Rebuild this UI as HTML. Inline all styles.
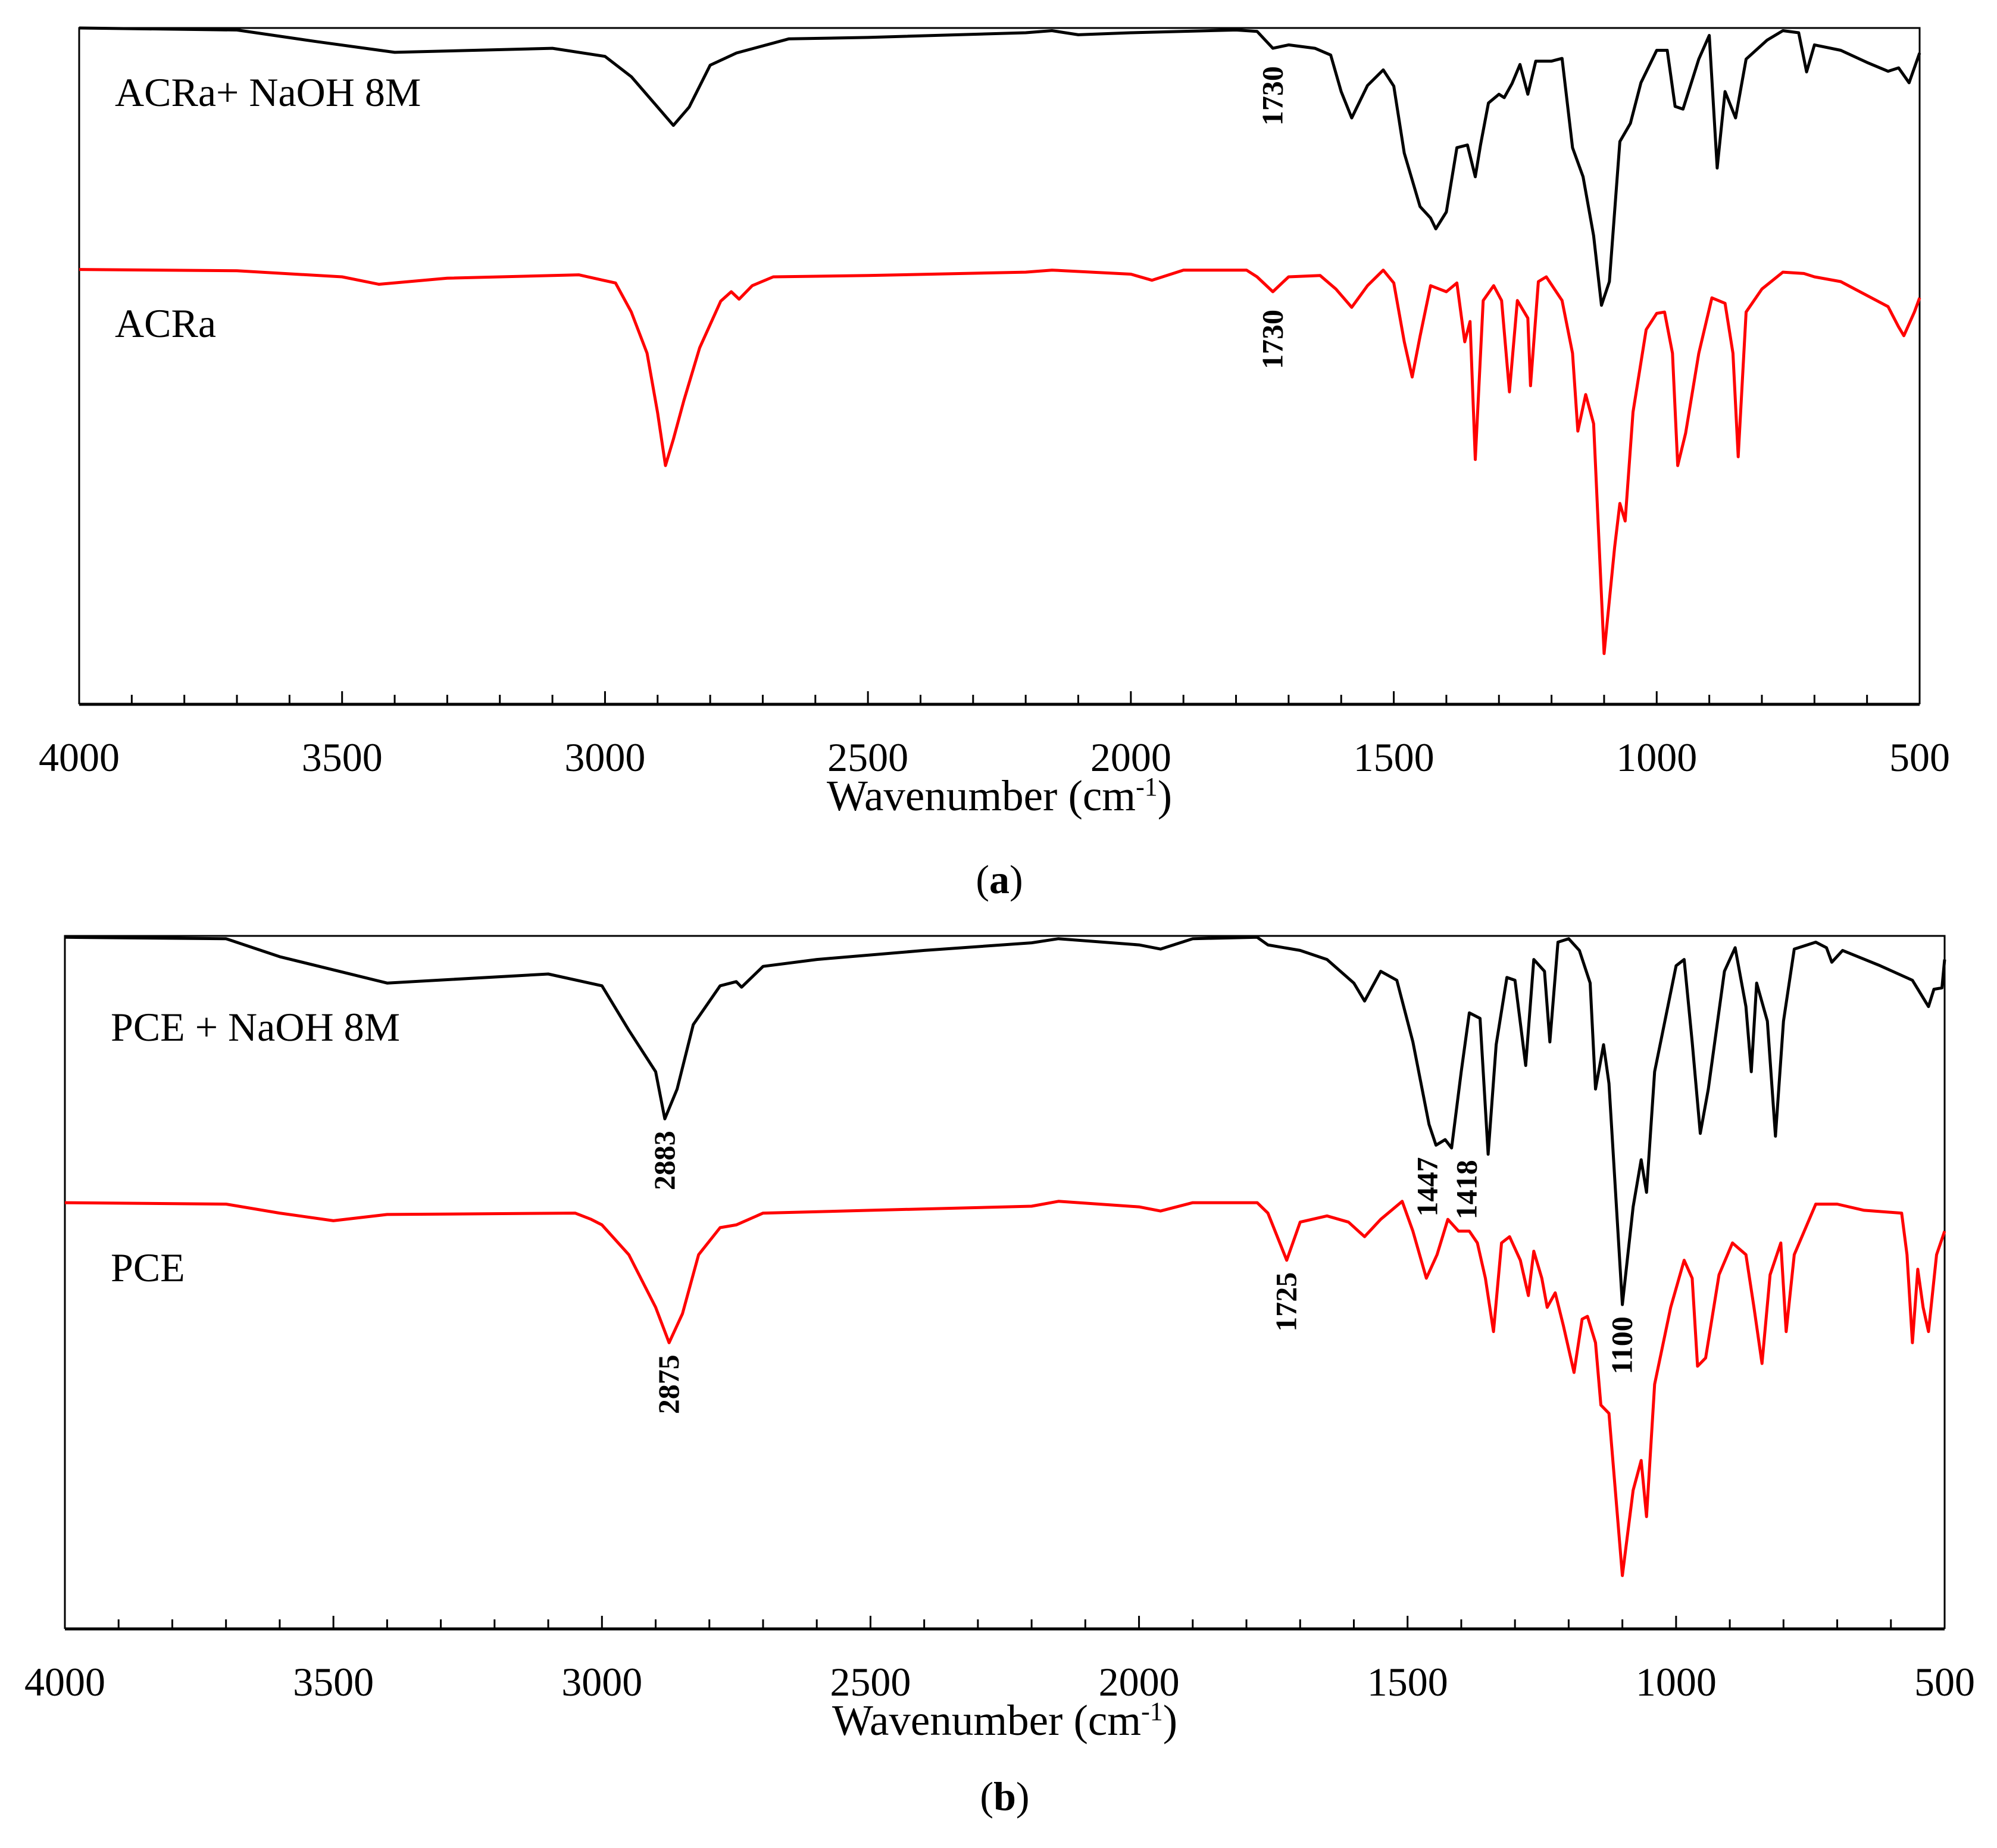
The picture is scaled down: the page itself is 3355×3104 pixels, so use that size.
<!DOCTYPE html>
<html><head><meta charset="utf-8"><style>
html,body{margin:0;padding:0;background:#fff;}
svg{display:block;}
text{font-family:"Liberation Serif",serif;fill:#000;}
</style></head><body>
<svg id="fig" width="3355" height="3104" viewBox="0 0 3355 3104" xmlns="http://www.w3.org/2000/svg"></svg>
<script>
const xTicks=[4000,3500,3000,2500,2000,1500,1000,500];
const acraNaoh=[[4000,100],[3700,99.7],[3550,98],[3400,96.4],[3100,97],[3000,95.8],[2950,92.8],[2900,88.3],[2870,85.6],[2840,88.3],[2800,94.5],[2750,96.3],[2650,98.4],[2500,98.6],[2200,99.3],[2150,99.6],[2100,99],[2000,99.3],[1800,99.7],[1760,99.5],[1730,97],[1700,97.5],[1650,97],[1620,96],[1600,90.6],[1580,86.7],[1550,91.5],[1520,93.8],[1500,91.4],[1480,81.5],[1450,73.6],[1430,71.9],[1420,70.3],[1400,72.8],[1380,82.3],[1360,82.7],[1345,78],[1335,82.7],[1320,88.9],[1300,90.2],[1290,89.7],[1275,91.8],[1260,94.6],[1245,90.2],[1230,95.1],[1200,95.1],[1180,95.5],[1160,82.3],[1140,78],[1120,69.3],[1105,59],[1090,62.5],[1070,83.2],[1050,85.9],[1030,91.9],[1000,96.7],[980,96.7],[965,88.4],[950,88],[920,95.4],[900,98.9],[885,79.3],[870,90.6],[850,86.7],[830,95.4],[790,98.2],[760,99.6],[730,99.3],[715,93.5],[700,97.5],[650,96.7],[600,94.9],[560,93.6],[540,94.1],[520,91.9],[500,96.3]];
const acra=[[4000,64.3],[3700,64.1],[3500,63.2],[3430,62.1],[3300,63],[3050,63.5],[2980,62.3],[2950,58],[2920,51.9],[2900,43.1],[2885,35.3],[2870,39.2],[2850,44.9],[2820,52.7],[2780,59.6],[2760,61],[2745,59.9],[2720,61.9],[2680,63.2],[2500,63.4],[2200,63.9],[2150,64.2],[2000,63.6],[1960,62.7],[1900,64.2],[1780,64.2],[1760,63.2],[1730,61],[1700,63.2],[1640,63.4],[1610,61.4],[1580,58.7],[1550,61.9],[1520,64.2],[1500,62.3],[1480,53.6],[1465,48.4],[1450,54.4],[1430,61.9],[1400,61],[1380,62.3],[1365,53.6],[1355,56.6],[1345,36.2],[1330,59.7],[1310,61.9],[1295,59.7],[1280,46.2],[1265,59.7],[1245,57.1],[1240,47.1],[1225,62.5],[1210,63.2],[1180,59.7],[1160,51.9],[1150,40.4],[1135,45.8],[1120,41.5],[1100,7.5],[1080,23.2],[1070,29.7],[1060,27.1],[1045,43.2],[1020,55.4],[1000,57.8],[985,58],[970,51.9],[960,35.3],[945,40.1],[920,51.9],[895,60.1],[870,59.3],[855,51.9],[845,36.6],[830,58],[800,61.4],[760,63.9],[720,63.7],[700,63.2],[650,62.5],[560,58.8],[540,55.8],[530,54.5],[510,58],[500,60.1]];
const pceNaoh=[[4000,99.8],[3700,99.6],[3600,97],[3400,93.2],[3100,94.5],[3000,92.8],[2950,86.4],[2900,80.4],[2883,73.6],[2860,77.9],[2830,87.2],[2780,92.8],[2750,93.4],[2740,92.6],[2700,95.6],[2600,96.6],[2400,97.9],[2200,99],[2150,99.6],[2000,98.7],[1960,98.1],[1900,99.6],[1780,99.8],[1760,98.7],[1700,97.9],[1650,96.6],[1600,93.2],[1580,90.6],[1550,94.9],[1520,93.6],[1490,84.7],[1460,72.8],[1447,69.8],[1430,70.6],[1418,69.4],[1400,80.4],[1385,88.9],[1365,88.1],[1350,68.5],[1335,84.3],[1315,94],[1300,93.6],[1280,81.3],[1265,96.6],[1245,94.9],[1235,84.7],[1220,99.1],[1200,99.6],[1180,97.9],[1160,93.2],[1150,77.9],[1135,84.3],[1125,78.7],[1100,46.8],[1080,60.9],[1065,67.7],[1055,63],[1040,80.4],[1000,95.7],[985,96.6],[970,84.7],[955,71.5],[940,77.9],[910,94.9],[890,98.3],[870,89.8],[860,80.4],[850,93.2],[830,87.7],[815,71.1],[800,87.7],[780,98.1],[740,99.1],[720,98.3],[710,96.2],[690,97.9],[620,95.7],[560,93.6],[530,89.8],[520,92.3],[505,92.5],[500,96.6]];
const pce=[[4000,61.5],[3700,61.3],[3600,60],[3500,58.9],[3400,59.8],[3050,60],[3020,59.1],[3000,58.3],[2950,54],[2900,46.4],[2875,41.3],[2850,45.5],[2820,54],[2780,57.9],[2750,58.3],[2700,60],[2500,60.4],[2200,61],[2150,61.7],[2000,60.9],[1960,60.3],[1900,61.5],[1780,61.5],[1760,60],[1725,53.2],[1700,58.7],[1650,59.6],[1610,58.7],[1580,56.6],[1550,59.1],[1510,61.7],[1490,57.4],[1465,50.6],[1445,54],[1425,59.1],[1405,57.4],[1385,57.4],[1370,55.7],[1355,50.6],[1340,42.9],[1325,55.7],[1310,56.6],[1290,53.2],[1275,48.1],[1265,54.5],[1250,50.6],[1240,46.4],[1225,48.5],[1210,43.8],[1190,37],[1175,44.7],[1165,45.1],[1150,41.3],[1140,32.3],[1125,31.1],[1100,7.7],[1080,20],[1065,24.3],[1055,16.2],[1040,35.3],[1010,46.4],[985,53.2],[970,50.6],[960,37.9],[945,39.1],[920,51.1],[895,55.7],[870,54],[855,46.4],[840,38.3],[825,51.1],[805,55.7],[795,42.9],[780,54],[740,61.3],[700,61.3],[650,60.4],[580,60],[570,54],[560,41.3],[550,51.9],[540,46.4],[530,42.9],[515,54],[500,57.4]];
const annA=[[1730,97,"1730"],[1730,61,"1730"]];
const annB=[[2883,73.6,"2883"],[1447,69.8,"1447"],[1418,69.4,"1418"],[2875,41.3,"2875"],[1725,53.2,"1725"],[1100,46.8,"1100"]];
const annShiftB={"1447":-14,"1418":26};

const NS="http://www.w3.org/2000/svg";
const svg=document.getElementById('fig');
function mk(tag,attrs,parent){const e=document.createElementNS(NS,tag);for(const k in attrs)e.setAttribute(k,attrs[k]);(parent||svg).appendChild(e);return e;}

function panel(id,L,R,T,B,series,labels,anns,annOff,shifts,letter,letterY){
  const g=mk('g',{});
  
  
  const x=w=>L+(4000-w)/3500*(R-L);
  const y=v=>B-v/100*(B-T);
  const frame=mk('path',{d:`M${L},${B} L${L},${T} L${R},${T} L${R},${B}`,fill:'none',stroke:'#000','stroke-width':3},g);
  
  
  const ax=mk('line',{x1:L,x2:R,y1:B,y2:B,stroke:'#000','stroke-width':5},g);
  
  
  for(let w=4000;w>=500;w-=100){
    const major=w%500===0;
    const t=mk('line',{x1:x(w),x2:x(w),y1:B,y2:B-(major?22:16),stroke:'#000','stroke-width':3},g);
    
    
  }
  xTicks.forEach(w=>{
    const t=mk('text',{x:x(w),y:B+112,'text-anchor':'middle','font-size':68},g);
    t.textContent=w;
    
    
  });
  const xt=mk('text',{x:(L+R)/2,y:B+178,'text-anchor':'middle','font-size':73},g);
  xt.innerHTML='Wavenumber (cm<tspan dy="-25" font-size="44">-1</tspan><tspan dy="25">)</tspan>';
  
  
  series.forEach(s=>{
    const d=s.data.map((p,i)=>(i?'L':'M')+x(p[0]).toFixed(1)+','+y(p[1]).toFixed(1)).join(' ');
    const p=mk('path',{d:d,fill:'none',stroke:s.color,'stroke-width':5,'stroke-linejoin':'round'},g);
    
    
  });
  labels.forEach(l=>{
    const t=mk('text',{x:l[0],y:l[1],'font-size':68},g);
    t.textContent=l[2];
    
    
  });
  anns.forEach(a=>{
    const cx=x(a[0])+16+(shifts[a[2]]||0), cy=y(a[1])+annOff;
    const t=mk('text',{x:cx,y:cy,'font-size':50,'font-weight':'bold','text-anchor':'end',transform:`rotate(-90 ${cx} ${cy})`},g);
    t.textContent=a[2];
    
    
  });
  const lt=mk('text',{x:(L+R)/2,y:letterY,'text-anchor':'middle','font-size':68},g);
  lt.innerHTML='(<tspan font-weight="bold">'+letter+'</tspan>)';
  
  
}
panel('panel-a',133,3225,47,1183,
  [{data:acraNaoh,color:'#000',name:'acra-naoh-spectrum'},{data:acra,color:'#ff0000',name:'acra-spectrum'}],
  [[193,178,'ACRa+ NaOH 8M'],[193,566,'ACRa']],
  annA,30,{},'a',1500);
panel('panel-b',109,3267,1572,2736,
  [{data:pceNaoh,color:'#000',name:'pce-naoh-spectrum'},{data:pce,color:'#ff0000',name:'pce-spectrum'}],
  [[186,1748,'PCE + NaOH 8M'],[186,2152,'PCE']],
  annB,20,annShiftB,'b',3040);
</script>
</body></html>
